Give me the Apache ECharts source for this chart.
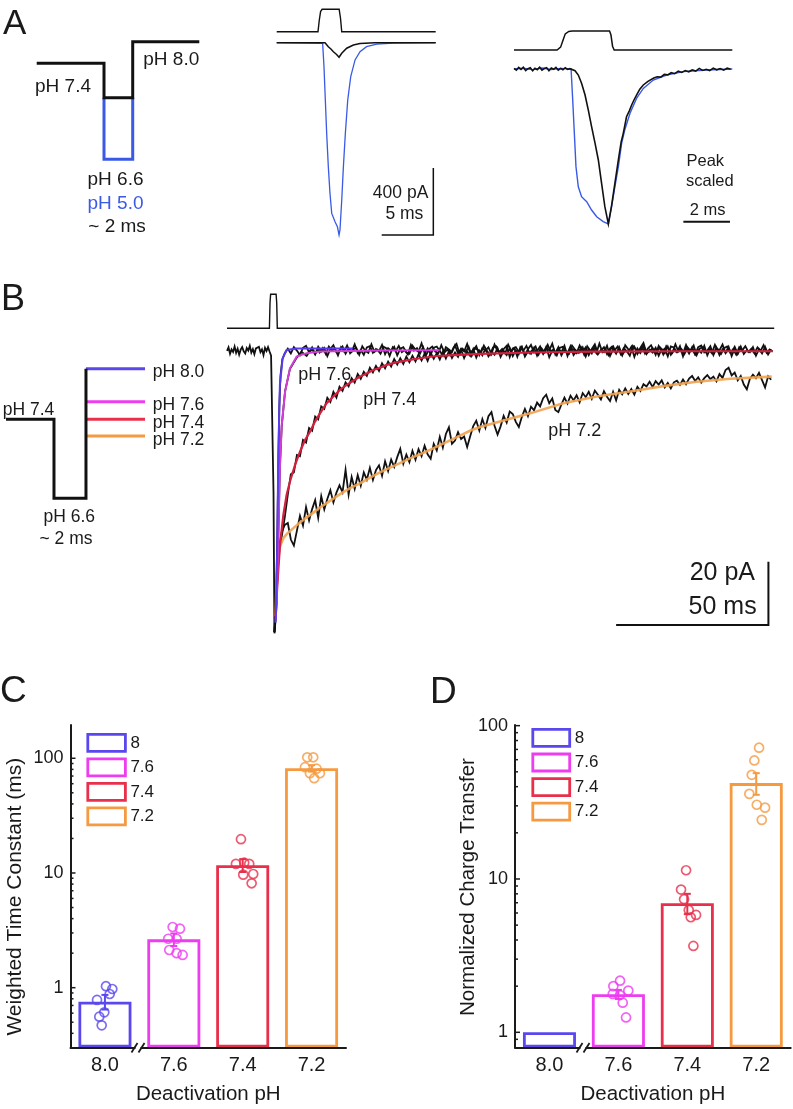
<!DOCTYPE html>
<html><head><meta charset="utf-8">
<script src="https://cdn.jsdelivr.net/npm/echarts@6/dist/echarts.min.js"></script>
<style>html,body{margin:0;padding:0;background:#fff}#c{width:793px;height:1109px}</style>
</head><body><div id="c"></div>
<script>
const FF = "'Liberation Sans', Arial, Helvetica, sans-serif";
const INK = '#1a1a1a';
const C80 = '#5a48ee', C76 = '#ee3cf0', C74 = '#e8304c', C72 = '#f59a40', BLUE = '#3a5ae6';
const FIT80 = '#5a3cf0', FIT76 = '#d23ed6', FIT74 = '#d3203e', FIT72 = '#f2a24e';

// ---------- Panel A schematic (time ms, relative level) ----------
const schemA_t = [0, 4.69, 4.69, 6.69, 6.69, 11.33];
const schemA_black = [0, 0, -3.44, -3.44, 2.16, 2.16];
const schemA_blue_t = [4.69, 4.69, 6.69, 6.69];
const schemA_blue = [-3.44, -9.6, -9.6, -3.44];

// ---------- Panel A middle (ms, pA) ----------
const aMidStimT = [0, 4.0, 4.12, 4.25, 4.4, 6.05, 6.18, 6.3, 15.4];
const aMidStimV = [0, 0, 0.5, 0.9, 1, 1, 0.6, 0, 0];
const aMidBlueT = [0, 4.45, 4.58, 4.71, 4.84, 5.0, 5.16, 5.33, 5.65, 5.88, 6.04, 6.13, 6.30, 6.46, 6.65, 6.88, 7.17, 7.59, 8.07, 8.7, 9.7, 11.3, 15.4];
const aMidBlueV = [0, -4, -143, -342, -541, -740, -899, -1019, -1069, -1099, -1148, -1118, -939, -740, -541, -342, -203, -103, -54, -24, -8, -3, 0];
const aMidBlackT = [0, 4.68, 5.0, 5.25, 5.49, 5.8, 6.04, 6.3, 6.78, 7.43, 8.07, 9.5, 15.4];
const aMidBlackV = [0, 0, -24, -38, -54, -70, -87, -63, -33, -14, -5, -1, 0];
const aMidScaleT = [10.17, 15.17, 15.17];
const aMidScaleV = [-1148, -1148, -748];

// ---------- Panel A right (ms, peak-normalised) ----------
const aRStimT = [0, 1.85, 2.0, 2.1, 2.2, 2.35, 2.5, 4.1, 4.16, 4.23, 4.3, 9.37];
const aRStimV = [0, 0, 0.15, 0.5, 0.85, 0.98, 1, 1, 0.8, 0.2, 0, 0];
const aRBlueT = [0, 0.4, 0.8, 1.2, 1.6, 2.0, 2.45, 2.52, 2.59, 2.66, 2.76, 2.9, 3.12, 3.33, 3.55, 3.83, 4.05, 4.19, 4.33, 4.48, 4.62, 4.76, 4.98, 5.26, 5.55, 5.98, 6.55, 7.27, 8.27, 9.37];
const aRBlueV = [0, 0.005, -0.004, 0.006, -0.003, 0.004, 0, -0.2, -0.415, -0.63, -0.76, -0.824, -0.856, -0.91, -0.953, -0.985, -1.0, -0.888, -0.76, -0.63, -0.48, -0.39, -0.286, -0.19, -0.125, -0.071, -0.039, -0.017, -0.006, 0];
const aRBlack = [[0,0.004],[0.1,-0.008],[0.2,0.01],[0.3,-0.003],[0.4,0.012],[0.5,-0.01],[0.6,0.002],[0.7,0.008],[0.8,-0.012],[0.9,0.005],[1.0,-0.004],[1.1,0.011],[1.2,-0.007],[1.3,0.003],[1.4,0.009],[1.5,-0.011],[1.6,0.006],[1.7,-0.002],[1.8,0.01],[1.9,-0.008],[2.0,0.004],[2.1,-0.005],[2.2,0.008],[2.3,-0.003],[2.4,0.002],[2.47,0],[2.62,-0.011],[2.76,-0.039],[2.9,-0.092],[3.05,-0.168],[3.19,-0.265],[3.33,-0.372],[3.48,-0.48],[3.62,-0.587],[3.76,-0.738],[3.9,-0.888],[4.05,-1.0],[4.19,-0.88],[4.33,-0.738],[4.48,-0.587],[4.6,-0.47],[4.69,-0.415],[4.83,-0.308],[4.95,-0.27],[5.05,-0.232],[5.15,-0.2],[5.26,-0.168],[5.4,-0.13],[5.55,-0.103],[5.75,-0.08],[6.0,-0.058],[6.15,-0.05],[6.3,-0.052],[6.45,-0.035],[6.6,-0.038],[6.75,-0.024],[6.9,-0.03],[7.05,-0.014],[7.2,-0.022],[7.35,-0.01],[7.5,-0.018],[7.65,-0.006],[7.8,-0.013],[7.95,0.004],[8.1,-0.009],[8.25,-0.002],[8.4,-0.01],[8.55,0.006],[8.7,-0.005],[8.85,0.003],[9.0,-0.007],[9.15,0.005],[9.3,-0.002]];
const aRScaleT = [7.27, 9.27];
const aRScaleV = [-0.985, -0.985];

// ---------- Panel B schematic ----------
const bSchemT = [0, 3, 3, 5, 5];
const bSchemV = [0, 0, -7.9, -7.9, 5.06];
const bSchemColT = [5, 8.69];
const bSchemLevels = [5.06, 1.76, 0, -1.67];   // pH 8.0, 7.6, 7.4, 7.2

// ---------- Panel B traces (ms, pA) ----------
const bStimT = [0, 13.95, 14.15, 14.35, 16.15, 16.35, 16.55, 180];
const bStimV = [0, 0, 0.75, 1, 1, 0.75, 0, 0];
const bPre = [-0.3,0.8,-1.2,0.2,-0.6,1.1,-0.9,0.4,-1.5,0.1,0.9,-0.4,-1.1,0.6,-0.2,1.3,-0.8,0.3,-1.3,0.5,-0.1,1.0,-0.7,0.2,-1.6,0.7,-0.3,0.9,-0.5,-1.8]; // t = 0..14.5, 0.5 ms
const b80Spike = [[15.0,-2],[15.3,-45],[15.6,-89.4],[16.0,-85],[16.3,-72],[16.6,-55],[16.9,-35],[17.2,-18],[17.6,-8],[18.2,-3],[19.0,-1]];
const b80Band = [0.4,-1.1,0.9,-0.2,-1.6,0.7,1.3,-0.8,0.2,-1.4,1.0,-0.5,0.6,-1.9,0.3,1.5,-0.7,-0.1,1.1,-1.2,
 0.5,-0.6,1.8,-1.0,0.0,-1.5,0.8,1.2,-0.9,0.3,-0.4,1.6,-1.3,0.6,-0.2,1.0,-1.7,0.4,0.9,-0.8,
 -1.2,1.4,0.1,-0.6,2.1,-1.0,0.5,-1.4,0.7,1.1,-0.3,-1.8,0.9,0.2,-0.7,1.5,-1.1,0.4,-0.5,1.9,
 -0.9,0.0,1.2,-1.6,0.6,-0.2,0.8,-1.3,1.7,-0.4,-1.0,0.3,1.3,-2.2,0.5,0.9,-0.6,1.0,-1.5,0.2,
 1.6,-0.8,-0.3,1.1,-1.2,0.7,-0.1,2.0,-1.4,0.4,-0.7,1.3,-1.9,0.6,0.1,-1.0,1.4,-0.5,0.8,-1.6,
 0.3,1.8,-1.1,-0.2,0.9,-1.3,0.5,1.2,-0.9,0.0,-1.7,1.5,0.2,-0.6,1.0,-1.2,0.7,2.2,-1.0,-0.4,
 0.6,-1.5,1.3,-0.3,0.4,-2.0,1.1,0.8,-0.7,0.1,-1.1,1.6,-0.5,0.3,-1.4,0.9,1.4,-0.8,-0.2,1.2,
 -1.6,0.5,-0.1,1.7,-1.0,0.2,-0.6,1.0,-1.3,0.7]; // t = 20..179, 1 ms
const b76Early = [[15.6,-89],[16.3,-80],[16.9,-58],[17.4,-37],[18.0,-24],[19.1,-13],[20.7,-6],[22.9,-2.5],[24.5,-0.6],[26.2,-1.9],[28,0.8],[29,-1.2],[30,0.3]];
const b76Band = [-0.8,0.6,-1.3,1.1,-0.2,0.4,-1.7,0.9,-0.5,1.4,-1.0,0.2,0.7,-1.5,1.2,-0.3,-0.9,1.8,-0.6,0.1,
 -1.2,1.0,0.5,-1.9,0.8,-0.4,1.3,-0.7,0.0,-1.4,1.6,-0.2,0.6,-1.1,0.9,-1.6,0.3,1.1,-0.5,-1.0,
 1.5,-0.8,0.2,-1.3,0.7,1.9,-1.2,0.4,-0.6,1.0,-1.8,0.5,0.1,-0.9,1.4,-0.3,-1.5,0.8,1.2,-0.7,
 0.3,-1.1,1.7,-0.4,0.6,-2.1,0.9,-0.2,1.3,-1.0,0.0,1.1,-1.4,0.5,-0.8,1.6,-0.5,0.2,-1.7,0.7,
 1.0,-0.6,-1.2,1.4,0.1,-0.9,0.8,-1.5,1.2,-0.3,0.4,-1.0,2.0,-0.7,0.3,-1.6,0.9,-0.1,1.1,-1.3,
 0.6,-0.4,-1.8,1.3,0.2,-0.8,1.0,-1.1,0.5,1.5,-0.6,-0.2,0.7,-1.4,1.2,0.0,-0.9,1.8,-0.5,0.3,
 -1.2,0.8,-0.3,1.4,-1.6,0.4,0.9,-0.7,0.1,-1.0,1.6,-0.4,-1.3,0.6,1.1,-0.8,0.2,-1.5,0.9,-0.1,
 1.2,-0.6,0.4,-1.1,0.8,-0.3,1.5,-0.9,0.2,-0.5]; // t = 30.5..179.5, 1 ms
const b74Early = [[15.6,-89],[16.2,-80],[16.6,-72]];
const b74 = [-64.5,-58.9,-52.8,-45.6,-39.2,-38.6,-33.1,-33.5,-28.4,-29.2,
 -24.6,-25.5,-21.0,-21.9,-17.8,-18.6,-15.1,-16.4,-13.2,-15.0,
 -11.6,-12.9,-10.2,-11.5,-8.9,-10.3,-7.6,-9.1,-6.9,-8.2,
 -5.6,-7.1,-5.0,-6.6,-4.2,-5.8,-3.7,-5.2,-2.9,-4.6,
 -2.6,-4.4,-2.1,-3.9,-1.8,-3.6,-1.4,-3.3,-1.2,-3.4,
 -0.9,-2.8,-1.0,-3.0,-0.6,-2.7,-0.4,-2.5,-0.8,-2.2,
 0.1,-2.6,-0.5,-1.9,0.3,-2.4,-0.2,-1.7,0.4,-2.0,
 -0.6,-1.5,0.6,-2.2,-0.3,-1.6,0.5,-1.9,-0.1,-1.3,
 0.8,-2.1,-0.4,-1.2,0.7,-1.8,0.2,-1.1,1.0,-2.3,
 -0.2,-0.9,0.9,-1.7,0.1,-1.0,1.2,-1.6,-0.3,-0.8,
 0.8,-2.0,0.4,-1.1,1.1,-1.4,0.0,-0.7,1.3,-1.9,
 0.2,-1.2,0.9,-1.5,-0.2,-0.6,1.0,-2.2,0.5,-0.9,
 1.4,-1.3,0.1,-0.8,0.7,-1.8,0.3,-1.0,1.1,-1.5,
 -0.1,-0.7,1.2,-2.0,0.6,-1.1,0.9,-1.4,0.0,-0.9,
 1.3,-1.7,0.4,-1.2,0.8,-1.6,0.2,-0.8,1.0,-1.9,
 0.5,-1.0,1.1,-1.3,-0.1,-0.7,0.9,-1.8,0.3,-1.1,
 1.0,-1.4,0.2]; // t = 17..179
const b72Early = [[15.6,-89],[16.1,-78],[16.5,-68]];
const b72 = [-63.0,-57.5,-55.2,-54.6,-59.8,-61.7,-57.0,-52.3,-55.4,-49.6,
 -53.8,-50.2,-47.4,-52.9,-46.1,-50.3,-47.0,-44.2,-48.1,-45.0,
 -42.7,-44.9,-37.8,-45.6,-40.1,-43.8,-39.5,-42.8,-38.6,-40.9,
 -37.2,-41.0,-37.9,-36.4,-39.7,-35.1,-38.2,-34.6,-36.9,-33.8,
 -31.2,-35.9,-33.0,-35.4,-31.8,-34.6,-31.3,-33.5,-30.2,-32.9,
 -34.3,-29.6,-31.7,-27.4,-30.8,-26.5,-24.4,-29.6,-28.6,-25.9,
 -28.1,-27.3,-30.6,-27.2,-24.0,-22.3,-25.4,-21.8,-24.6,-20.9,
 -19.6,-23.9,-26.7,-24.1,-20.8,-22.9,-19.4,-20.2,-22.7,-24.3,
 -21.1,-18.6,-20.9,-17.9,-19.0,-16.6,-17.8,-15.2,-14.1,-16.8,
 -15.3,-18.9,-19.6,-17.2,-15.0,-16.9,-14.4,-15.9,-14.3,-16.5,
 -13.6,-14.9,-13.2,-15.4,-12.8,-14.1,-15.6,-13.0,-14.8,-16.1,
 -13.2,-15.9,-12.6,-14.0,-12.1,-13.9,-12.3,-14.1,-11.6,-12.9,
 -10.8,-11.5,-10.0,-11.7,-9.8,-10.9,-9.6,-11.8,-10.4,-12.1,
 -10.2,-9.7,-11.0,-9.3,-10.8,-9.0,-8.2,-9.8,-8.6,-10.3,
 -8.9,-7.9,-9.2,-8.4,-9.9,-7.6,-8.8,-6.3,-5.6,-8.0,
 -7.1,-9.6,-8.2,-10.9,-12.4,-9.1,-7.8,-8.9,-7.2,-9.5,
 -11.8,-8.3,-9.4]; // t = 17..179
const fit80 = [[15.9,-86],[16.1,-83.6],[16.5,-63.6],[16.9,-32.1],[17.4,-11.0],[18.3,-2.6],[19.6,0],[22.9,0.5],[41.4,0.5]];
const fit76 = [[16.0,-85],[16.3,-80.4],[16.9,-58.4],[17.4,-37.2],[18.0,-23.7],[19.1,-13.2],[20.7,-5.8],[22.9,-2.1],[26.2,-1.0],[30.6,-0.5],[50,-0.2],[70,-0.1]];
const fit74 = [[16.0,-84],[16.56,-74.1],[17.43,-61.5],[18.53,-52.1],[19.62,-45.7],[20.72,-41.5],[22.37,-36.3],[24.01,-32.1],[25.66,-28.4],[27.3,-25.8],[28.95,-22.6],[30.59,-20.0],[32.79,-16.8],[34.98,-14.7],[37.17,-12.6],[39.36,-11.0],[41.56,-9.7],[43.75,-8.4],[45.94,-7.4],[48.14,-6.3],[50.33,-5.6],[52.52,-4.7],[55.81,-3.9],[59.1,-3.3],[63.49,-2.6],[68.97,-1.9],[74.45,-1.6],[83.22,-1.2],[100,-0.8],[120,-0.5],[150,-0.4],[179.5,-0.4]];
const fit72 = [[16.0,-84],[16.34,-72.0],[16.89,-65.7],[17.43,-62.0],[18.53,-59.4],[19.62,-58.1],[21.82,-56.2],[24.01,-54.4],[26.2,-52.8],[28.4,-51.3],[30.59,-49.7],[33.88,-47.6],[37.17,-45.5],[40.46,-43.6],[43.75,-42.1],[47.04,-40.3],[50.33,-38.6],[53.62,-37.1],[56.91,-35.7],[60.2,-34.2],[63.49,-32.9],[66.78,-31.5],[70.07,-30.0],[73.36,-28.5],[76.64,-27.0],[79.93,-25.5],[83.2,-24.3],[99.7,-20.0],[110.6,-16.8],[121.6,-14.7],[132.6,-13.1],[143.5,-11.4],[154.5,-10.0],[165.5,-9.1],[179.2,-8.4]];
const bScale = [[128,-86.8],[178.1,-86.8],[178.1,-66.8]];

// ---------- Panels C and D ----------
const categories = ['8.0', '7.6', '7.4', '7.2'];
const legendNames = ['8', '7.6', '7.4', '7.2'];
const groupColors = [C80, C76, C74, C72];
const tauMean = [0.755, 2.64, 11.7, 81.8];
const tauSem = [0.11, 0.33, 1.5, 5.3];
const tauPts = [[1.03,0.974,0.881,0.782,0.61,0.559,0.47],[3.38,3.27,2.67,2.67,2.13,2.0,1.93],[19.7,12.0,12.3,12.0,9.67,9.8,8.13],[102,102,83.6,81.1,74,74,67]];
const tauJit = [[0.015,0.107,0.069,-0.115,-0.009,-0.082,-0.047],[-0.017,0.089,-0.081,0.041,-0.066,0.041,0.128],[-0.025,-0.098,0.022,0.095,0.008,0.153,0.13],[-0.063,0.024,-0.096,0.073,-0.024,0.121,0.038]];
const qMean = [1, 1.77, 6.95, 42.2];
const qSem = [0, 0.12, 1.05, 6.8];
const qPts = [[],[2.17,2.0,1.87,1.78,1.56,1.25,1.75],[11.4,8.53,7.38,6.28,5.83,5.63,3.66],[71.8,59.3,47.8,35.9,30.5,29.2,24.3]];
const qJit = [[],[0.024,-0.073,0.144,-0.082,0.063,0.111,0.024],[-0.018,-0.091,-0.047,0.021,0.127,0.05,0.088],[0.041,-0.027,-0.065,-0.1,0.008,0.128,0.08]];
const cMajorTicks = [1, 10, 100];
const cMinorTicks = [0.4,0.5,0.6,0.7,0.8,0.9,2,3,4,5,6,7,8,9,20,30,40,50,60,70,80,90];
const dMajorTicks = [1, 10, 100];
const dMinorTicks = [0.9,2,3,4,5,6,7,8,9,20,30,40,50,60,70,80,90];

// ---------- helpers ----------
const pairs = (ts, vs) => ts.map((t, i) => [t, vs[i]]);
const sampled = (t0, dt, vs) => vs.map((v, i) => [+(t0 + i * dt).toFixed(3), v]);

const grids = [
  {left: 36.7, top: 33.3, width: 162.6, height: 130},
  {left: 276.7, top: 9.3, width: 159, height: 22.4},
  {left: 276.7, top: 36, width: 159, height: 201},
  {left: 514, top: 31, width: 218.3, height: 19},
  {left: 514, top: 61.25, width: 218.3, height: 165.85},
  {left: 6, top: 359.3, width: 139, height: 150},
  {left: 227, top: 294.3, width: 547.2, height: 34},
  {left: 227, top: 337.3, width: 547.2, height: 304.3},
  {left: 70.5, top: 725, width: 275.5, height: 322.5},
  {left: 515, top: 725, width: 275.7, height: 322.5}
];
const hx = [[0,11.33],[0,15.4],[0,15.4],[0,9.37],[0,9.37],[0,8.69],[0,180],[0,180]];
const hy = [[-10,3],[0,1],[-1160,40],[0,1],[-1.02,0.05],[-9,6],[0,1],[-92,4]];
const xAxis = [], yAxis = [];
for (let i = 0; i < 8; i++) {
  xAxis.push({gridIndex: i, type: 'value', min: hx[i][0], max: hx[i][1], show: false});
  yAxis.push({gridIndex: i, type: 'value', min: hy[i][0], max: hy[i][1], show: false});
}
const logFmt = v => { const l = Math.log10(v); return Math.abs(l - Math.round(l)) < 1e-6 ? String(+Math.pow(10, Math.round(l)).toFixed(3)) : ''; };
function catAxis(g) {
  return {gridIndex: g, type: 'category', data: categories, z: 10,
    axisLine: {onZero: false, lineStyle: {color: INK, width: 2}}, axisTick: {show: false},
    axisLabel: {color: INK, fontSize: 20, fontFamily: FF, margin: 8},
    name: 'Deactivation pH', nameLocation: 'middle', nameGap: 36,
    nameTextStyle: {color: INK, fontSize: 20.5, fontFamily: FF}};
}
function logAxis(g, mn, mx) {
  return {gridIndex: g, type: 'log', logBase: 10, min: mn, max: mx, startValue: mn, z: 10,
    axisLine: {show: true, onZero: false, lineStyle: {color: INK, width: 2}}, axisTick: {show: false},
    splitLine: {show: false}, minorTick: {show: false}, minorSplitLine: {show: false},
    axisLabel: {formatter: logFmt, color: INK, fontSize: 18, fontFamily: FF, margin: 7}};
}
xAxis.push(catAxis(8));                                                          // 8
xAxis.push({gridIndex: 8, type: 'value', min: -0.5, max: 3.5, show: false});     // 9
xAxis.push(catAxis(9));                                                          // 10
xAxis.push({gridIndex: 9, type: 'value', min: -0.5, max: 3.5, show: false});     // 11
yAxis.push(logAxis(8, 0.301, 195));                                              // 8
yAxis.push(logAxis(9, 0.796, 101));                                              // 9

const series = [];
function line(g, data, color, width, z, opacity) {
  series.push({type: 'line', xAxisIndex: g, yAxisIndex: g, data, symbol: 'none', silent: true,
    animation: false, z: z || 2, clip: false,
    lineStyle: {color, width, opacity: opacity == null ? 1 : opacity, join: 'miter', cap: 'butt'}});
}
// A schematic
line(0, pairs(schemA_blue_t, schemA_blue), BLUE, 3, 2);
line(0, pairs(schemA_t, schemA_black), '#111', 3, 3);
// A middle
line(1, pairs(aMidStimT, aMidStimV), '#111', 1.4);
line(2, pairs(aMidBlueT, aMidBlueV), BLUE, 1.3, 2);
line(2, pairs(aMidBlackT, aMidBlackV), '#111', 1.5, 3);
line(2, pairs(aMidScaleT, aMidScaleV), '#111', 1.5, 3);
// A right
line(3, pairs(aRStimT, aRStimV), '#111', 1.5);
line(4, pairs(aRBlueT, aRBlueV), BLUE, 1.4, 2);
line(4, aRBlack, '#111', 1.6, 3);
line(4, pairs(aRScaleT, aRScaleV), '#111', 2, 3);
// B schematic
const fitCols = [C80, C76, C74, C72];
bSchemLevels.forEach((lv, i) => line(5, pairs(bSchemColT, [lv, lv]), fitCols[i], 3, 2));
line(5, pairs(bSchemT, bSchemV), '#111', 3, 3);
// B traces
line(6, pairs(bStimT, bStimV), '#111', 1.4);
line(7, sampled(0, 0.5, bPre).concat(b80Spike, sampled(20, 1, b80Band)), '#111', 1.8, 2);
line(7, b76Early.concat(sampled(30.5, 1, b76Band)), '#111', 1.8, 2);
line(7, b74Early.concat(sampled(17, 1, b74)), '#111', 1.8, 2);
line(7, b72Early.concat(sampled(17, 1, b72)), '#111', 1.8, 2);
line(7, fit72, FIT72, 2.6, 4, 0.9);
line(7, fit74, FIT74, 2.2, 4);
line(7, fit76, FIT76, 2.0, 4);
line(7, fit80, FIT80, 2.0, 4);
line(7, bScale, '#111', 2, 4);

// C and D
function barPanel(xCat, xVal, yIdx, means, sem, pts, jit, majors, minors, barW) {
  means.forEach((m, i) => {
    series.push({type: 'bar', name: legendNames[i], xAxisIndex: xCat, yAxisIndex: yIdx,
      data: categories.map((_, k) => k === i ? m : '-'), barWidth: barW, barGap: '-100%',
      itemStyle: {color: '#fff', borderColor: groupColors[i], borderWidth: 2.8}, z: 2, animation: false, silent: true});
  });
  series.push({type: 'custom', xAxisIndex: xVal, yAxisIndex: yIdx, z: 3, silent: true, animation: false, clip: false,
    data: means.map((m, i) => [i, m - sem[i], m + sem[i]]).filter((d, i) => sem[i] > 0),
    renderItem: (params, api) => {
      const i = api.value(0), p1 = api.coord([i, api.value(1)]), p2 = api.coord([i, api.value(2)]);
      const st = {stroke: groupColors[i], lineWidth: 2};
      return {type: 'group', children: [
        {type: 'line', shape: {x1: p1[0], y1: p1[1], x2: p2[0], y2: p2[1]}, style: st},
        {type: 'line', shape: {x1: p1[0] - 3.5, y1: p1[1], x2: p1[0] + 3.5, y2: p1[1]}, style: st},
        {type: 'line', shape: {x1: p2[0] - 3.5, y1: p2[1], x2: p2[0] + 3.5, y2: p2[1]}, style: st}]};
    }});
  pts.forEach((arr, i) => {
    if (!arr.length) return;
    series.push({type: 'scatter', xAxisIndex: xVal, yAxisIndex: yIdx, z: 4, silent: true, animation: false,
      data: arr.map((v, k) => [i + jit[i][k], v]), symbol: 'circle', symbolSize: 9,
      itemStyle: {color: 'rgba(255,255,255,0)', borderColor: groupColors[i], borderWidth: 1.7}});
  });
  series.push({type: 'custom', xAxisIndex: xVal, yAxisIndex: yIdx, z: 5, silent: true, animation: false, clip: false,
    data: majors.map(v => [0, v, 5]).concat(minors.map(v => [0, v, 3])),
    renderItem: (params, api) => {
      const y = api.coord([0, api.value(1)])[1], x0 = params.coordSys.x;
      return {type: 'line', shape: {x1: x0, y1: y, x2: x0 + api.value(2), y2: y}, style: {stroke: INK, lineWidth: 1.5}};
    }});
}
barPanel(8, 9, 8, tauMean, tauSem, tauPts, tauJit, cMajorTicks, cMinorTicks, 53);
barPanel(10, 11, 9, qMean, qSem, qPts, qJit, dMajorTicks, dMinorTicks, 53);

// ---------- texts and decorations ----------
const T = (x, y, text, size, o = {}) => ({type: 'text', x, y, z: 100, rotation: o.rot || 0, silent: true,
  style: {text, fill: o.fill || INK, fontSize: size, fontFamily: FF, align: o.align || 'left', verticalAlign: 'middle'}});
const L = (x1, y1, x2, y2) => ({type: 'line', z: 101, silent: true, shape: {x1, y1, x2, y2}, style: {stroke: INK, lineWidth: 1.8}});
const R = (x, y, w, h) => ({type: 'rect', z: 100, silent: true, shape: {x, y, width: w, height: h}, style: {fill: '#fff'}});
const graphic = [
  T(3, 24, 'A', 35), T(1, 300, 'B', 36), T(0, 692, 'C', 37), T(430, 692.5, 'D', 37),
  T(35, 86.7, 'pH 7.4', 19), T(143.3, 59.7, 'pH 8.0', 19), T(87.5, 179.7, 'pH 6.6', 19),
  T(87.5, 203.7, 'pH 5.0', 19, {fill: BLUE}), T(88.3, 226.7, '~ 2 ms', 19),
  T(428.3, 193.3, '400 pA', 17.5, {align: 'right'}), T(423.3, 214, '5 ms', 17.5, {align: 'right'}),
  T(686.5, 161.7, 'Peak', 16.5), T(686, 181.7, 'scaled', 16.5), T(707.7, 210.3, '2 ms', 16.5, {align: 'center'}),
  T(152.7, 372.2, 'pH 8.0', 17.5), T(152.7, 405.5, 'pH 7.6', 17.5), T(152.7, 422.7, 'pH 7.4', 17.5),
  T(152.7, 439.8, 'pH 7.2', 17.5), T(2.7, 409.8, 'pH 7.4', 17.5),
  T(69.2, 516.8, 'pH 6.6', 17.5, {align: 'center'}), T(66, 539, '~ 2 ms', 17.5, {align: 'center'}),
  T(298.3, 375, 'pH 7.6', 18), T(363.3, 400, 'pH 7.4', 18), T(548.3, 431.3, 'pH 7.2', 18),
  T(755, 573.3, '20 pA', 25, {align: 'right'}), T(756.7, 606.7, '50 ms', 25, {align: 'right'}),
  T(15, 896.7, 'Weighted Time Constant (ms)', 21, {align: 'center', rot: Math.PI / 2}),
  T(468.3, 887, 'Normalized Charge Transfer', 20.5, {align: 'center', rot: Math.PI / 2}),
  R(135.5, 1044, 5, 7), L(131.5, 1052.5, 137.5, 1043), L(138.5, 1052.5, 144.5, 1043),
  R(580.5, 1044, 5, 7), L(576.5, 1052.5, 582.5, 1043), L(583.5, 1052.5, 589.5, 1043)
];

const legendBase = {orient: 'vertical', icon: 'rect', itemHeight: 17, padding: 0, selectedMode: false,
  data: legendNames, itemStyle: {borderWidth: 2.8, color: '#fff'},
  textStyle: {color: INK, fontSize: 17, fontFamily: FF}};
const chart = echarts.init(document.getElementById('c'), null, {renderer: 'canvas'});
chart.setOption({
  animation: false, backgroundColor: '#fff',
  grid: grids, xAxis, yAxis, series, graphic,
  legend: [Object.assign({}, legendBase, {left: 86.4, top: 733, itemWidth: 37.6, itemGap: 4.7}),
           Object.assign({}, legendBase, {left: 531.4, top: 728, itemWidth: 36.9, itemGap: 4.8})]
});
</script></body></html>
